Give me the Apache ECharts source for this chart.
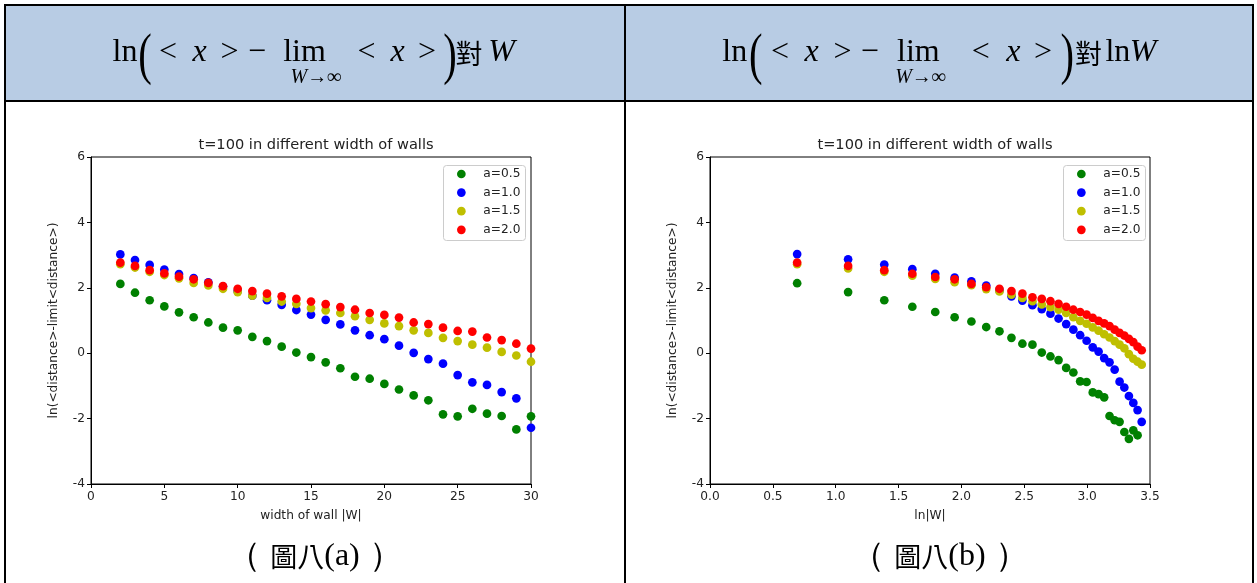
<!DOCTYPE html>
<html>
<head>
<meta charset="utf-8">
<script src="https://cdn.jsdelivr.net/npm/echarts@6/dist/echarts.min.js"></script>
<style>
  html, body { margin: 0; padding: 0; background: #fff; }
  #main { width: 1257px; height: 583px; }
</style>
</head>
<body>
<div id="main"></div>
<script>
// ---- data: panel (a), wall width W on the x axis ----
const widthsA = [2,3,4,5,6,7,8,9,10,11,12,13,14,15,16,17,18,19,20,21,22,23,24,25,26,27,28,29,30];
const a05A = [2.12,1.85,1.62,1.43,1.25,1.10,0.94,0.78,0.70,0.50,0.37,0.20,0.02,-0.12,-0.28,-0.46,-0.72,-0.78,-0.94,-1.11,-1.29,-1.44,-1.87,-1.93,-1.70,-1.85,-1.92,-2.33,-1.93];
const a10A = [3.02,2.85,2.70,2.56,2.42,2.30,2.17,2.04,1.90,1.76,1.62,1.48,1.32,1.18,1.02,0.88,0.70,0.55,0.43,0.23,0.01,-0.18,-0.32,-0.67,-0.89,-0.97,-1.19,-1.38,-2.28];
const a15A = [2.72,2.62,2.49,2.39,2.29,2.15,2.07,1.97,1.87,1.76,1.69,1.58,1.51,1.38,1.31,1.23,1.13,1.02,0.91,0.83,0.70,0.62,0.47,0.37,0.26,0.17,0.04,-0.07,-0.26];
const a20A = [2.77,2.67,2.54,2.44,2.34,2.26,2.15,2.05,1.97,1.90,1.82,1.74,1.66,1.58,1.50,1.41,1.33,1.23,1.17,1.09,0.94,0.89,0.78,0.68,0.66,0.48,0.40,0.29,0.14];

// ---- data: panel (b), ln W on the x axis ----
const widthsB = [2,3,4,5,6,7,8,9,10,11,12,13,14,15,16,17,18,19,20,21,22,23,24,25,26,27,28,29,30,31];
const a05B = [2.14,1.87,1.62,1.42,1.26,1.10,0.97,0.80,0.67,0.47,0.29,0.26,0.02,-0.10,-0.21,-0.45,-0.59,-0.86,-0.88,-1.20,-1.25,-1.35,-1.92,-2.05,-2.10,-2.41,-2.62,-2.36,-2.51,null];
const a10B = [3.03,2.87,2.71,2.57,2.43,2.31,2.20,2.07,1.92,1.74,1.61,1.47,1.35,1.21,1.06,0.89,0.72,0.55,0.38,0.18,0.05,-0.15,-0.28,-0.50,-0.87,-1.05,-1.31,-1.52,-1.74,-2.10];
const a15B = [2.72,2.59,2.49,2.37,2.27,2.17,2.08,1.96,1.89,1.79,1.69,1.59,1.49,1.41,1.33,1.23,1.10,0.99,0.90,0.79,0.69,0.58,0.48,0.37,0.26,0.15,-0.03,-0.17,-0.26,-0.35];
const a20B = [2.77,2.67,2.54,2.43,2.33,2.26,2.12,2.02,1.97,1.90,1.82,1.71,1.66,1.59,1.51,1.42,1.33,1.26,1.18,1.08,0.99,0.91,0.83,0.72,0.62,0.54,0.44,0.34,0.20,0.09];

const seriesNames = ['a=0.5', 'a=1.0', 'a=1.5', 'a=2.0'];
const seriesColors = ['#008000', '#0000ff', '#bfbf00', '#ff0000'];
const yTicks = [-4, -2, 0, 2, 4, 6];
const xTicksA = [0, 5, 10, 15, 20, 25, 30];
const xTicksB = [0.0, 0.5, 1.0, 1.5, 2.0, 2.5, 3.0, 3.5];

const chartTitle = 't=100 in different width of walls';
const yName = 'ln(<distance>-limit<distance>)';
const xNameA = 'width of wall |W|';
const xNameB = 'ln|W|';
const captionA = '{fw|（}{cjk|圖八}{lat|(a)}{fw|）}';
const captionB = '{fw|（}{cjk|圖八}{lat|(b)}{fw|）}';

const SANS = "'DejaVu Sans', sans-serif";
const SERIF = "'Liberation Serif', 'DejaVu Serif', serif";
const CJK = "'Noto Sans CJK TC', 'Noto Sans CJK SC', sans-serif";
const LABEL_SIZE = 12.2;

function pairs(xs, ys, fx) {
  const out = [];
  xs.forEach((x, i) => { if (ys[i] !== null && ys[i] !== undefined) out.push([fx ? fx(x) : x, ys[i]]); });
  return out;
}

const valsA = [a05A, a10A, a15A, a20A];
const valsB = [a05B, a10B, a15B, a20B];

const series = [];
valsA.forEach((v, k) => series.push({
  type: 'scatter', name: seriesNames[k], xAxisIndex: 0, yAxisIndex: 0,
  data: pairs(widthsA, v), symbolSize: 8.7,
  itemStyle: { color: seriesColors[k], opacity: 1 }, emphasis: { disabled: true }, z: 2 + k
}));
valsB.forEach((v, k) => series.push({
  type: 'scatter', name: seriesNames[k], xAxisIndex: 1, yAxisIndex: 1,
  data: pairs(widthsB, v, Math.log), symbolSize: 8.7,
  itemStyle: { color: seriesColors[k], opacity: 1 }, emphasis: { disabled: true }, z: 2 + k
}));

function xAxisDef(idx, ticks, fmt, name) {
  return {
    type: 'value', gridIndex: idx, min: ticks[0], max: ticks[ticks.length - 1],
    interval: ticks[1] - ticks[0],
    axisLine: { show: true, onZero: false, lineStyle: { color: '#000', width: 1 } },
    axisTick: { show: true, length: 4, lineStyle: { color: '#000' } },
    axisLabel: { color: '#222', fontSize: LABEL_SIZE, fontFamily: SANS, margin: 7, formatter: fmt },
    splitLine: { show: false },
    name: name, nameLocation: 'middle', nameGap: 26,
    nameTextStyle: { color: '#222', fontSize: LABEL_SIZE, fontFamily: SANS }
  };
}
function yAxisDef(idx) {
  return {
    type: 'value', gridIndex: idx, min: yTicks[0], max: yTicks[yTicks.length - 1], interval: 2,
    axisLine: { show: true, onZero: false, lineStyle: { color: '#000', width: 1 } },
    axisTick: { show: true, length: 4, lineStyle: { color: '#000' } },
    axisLabel: { color: '#222', fontSize: LABEL_SIZE, fontFamily: SANS, margin: 6 },
    splitLine: { show: false },
    name: yName, nameLocation: 'middle', nameGap: 31, nameRotate: 90,
    nameTextStyle: { color: '#222', fontSize: LABEL_SIZE, fontFamily: SANS }
  };
}

// header formula pieces: [text, centre x, kind]
const headerA = [
  ['ln', 125, 'rm'], ['(', 145, 'paren'], ['<', 168, 'rm'], ['x', 199.5, 'it'], ['>', 229.5, 'rm'],
  ['−', 257, 'rm'], ['lim', 304.5, 'rm'], ['W→∞', 316, 'sub'], ['<', 366.5, 'rm'], ['x', 397.5, 'it'],
  ['>', 427, 'rm'], [')', 450, 'paren'], ['對', 469, 'cjk'], ['W', 501.5, 'it']
];
const headerB = [
  ['ln', 734.7, 'rm'], ['(', 755.8, 'paren'], ['<', 780, 'rm'], ['x', 811.7, 'it'], ['>', 842.4, 'rm'],
  ['−', 869.8, 'rm'], ['lim', 918.4, 'rm'], ['W→∞', 920.6, 'sub'], ['<', 980.7, 'rm'], ['x', 1013.4, 'it'],
  ['>', 1043, 'rm'], [')', 1067.3, 'paren'], ['對', 1088.5, 'cjk'], ['ln', 1117.9, 'rm'], ['W', 1143.2, 'it']
];

function headerPieces(list) {
  return list.map(([t, cx, kind]) => {
    const st = { text: t, fill: '#000', align: 'center', verticalAlign: 'middle', fontFamily: SERIF, fontSize: 32 };
    let y = 53, sy = 1, sx = 1;
    if (kind === 'it') { st.fontStyle = 'italic'; }
    if (kind === 'sub') { st.fontSize = 20; st.fontStyle = 'italic'; y = 78; }
    if (kind === 'cjk') { st.fontFamily = CJK; st.fontSize = 27; y = 54; }
    if (kind === 'paren') { st.fontSize = 58; y = 58; sx = 0.7; }
    return { type: 'text', x: cx, y: y, scaleX: sx, scaleY: sy, style: st, z: 10, silent: true };
  });
}

const captionRich = {
  fw: { fontFamily: SERIF, fontSize: 34, fill: '#000', padding: [0, 9, 0, 9] },
  cjk: { fontFamily: CJK, fontSize: 27, fill: '#000' },
  lat: { fontFamily: SERIF, fontSize: 32, fill: '#000' }
};

const lineStyle = { stroke: '#000', lineWidth: 2 };
const graphics = [
  { type: 'rect', shape: { x: 6, y: 6, width: 618, height: 94 }, style: { fill: '#b8cce4' }, z: 1, silent: true },
  { type: 'rect', shape: { x: 626, y: 6, width: 626, height: 94 }, style: { fill: '#b8cce4' }, z: 1, silent: true },
  { type: 'line', shape: { x1: 4, y1: 5, x2: 1254, y2: 5 }, style: lineStyle, z: 5, silent: true },
  { type: 'line', shape: { x1: 4, y1: 101, x2: 1254, y2: 101 }, style: lineStyle, z: 5, silent: true },
  { type: 'line', shape: { x1: 5, y1: 4, x2: 5, y2: 583 }, style: lineStyle, z: 5, silent: true },
  { type: 'line', shape: { x1: 625, y1: 4, x2: 625, y2: 583 }, style: lineStyle, z: 5, silent: true },
  { type: 'line', shape: { x1: 1253, y1: 4, x2: 1253, y2: 583 }, style: lineStyle, z: 5, silent: true },
  // legend frames
  { type: 'rect', shape: { x: 443.5, y: 165.5, width: 82, height: 75, r: 3 }, style: { fill: 'rgba(255,255,255,0.8)', stroke: '#cccccc', lineWidth: 1 }, z: 20, silent: true },
  { type: 'rect', shape: { x: 1063.5, y: 165.5, width: 82, height: 75, r: 3 }, style: { fill: 'rgba(255,255,255,0.8)', stroke: '#cccccc', lineWidth: 1 }, z: 20, silent: true },
  // captions
  { type: 'text', x: 315, y: 557, style: { text: captionA, rich: captionRich, fill: '#000', align: 'center', verticalAlign: 'middle' }, z: 10, silent: true },
  { type: 'text', x: 940, y: 557, style: { text: captionB, rich: captionRich, fill: '#000', align: 'center', verticalAlign: 'middle' }, z: 10, silent: true }
].concat(headerPieces(headerA), headerPieces(headerB));

function legendDef(left) {
  return {
    left: left, top: 163, orient: 'vertical', itemWidth: 34, itemHeight: 8.7, itemGap: 6.6,
    icon: 'circle', selectedMode: false, z: 30,
    textStyle: { color: '#222', fontSize: LABEL_SIZE, fontFamily: SANS, lineHeight: 12 },
    data: seriesNames
  };
}

const titleStyle = { color: '#222', fontSize: 14.6, fontWeight: 'normal', fontFamily: SANS };
const chart = echarts.init(document.getElementById('main'), null, { renderer: 'canvas' });
chart.setOption({
  animation: false,
  backgroundColor: '#fff',
  title: [
    { text: chartTitle, left: 311, top: 133, textAlign: 'center', textStyle: titleStyle },
    { text: chartTitle, left: 930, top: 133, textAlign: 'center', textStyle: titleStyle }
  ],
  legend: [
    Object.assign(legendDef(452), { id: 'lgA' }),
    Object.assign(legendDef(1072), { id: 'lgB' })
  ],
  grid: [
    { left: 91, top: 157, width: 440, height: 327, show: true, borderColor: '#000', borderWidth: 1, backgroundColor: 'transparent' },
    { left: 710, top: 157, width: 440, height: 327, show: true, borderColor: '#000', borderWidth: 1, backgroundColor: 'transparent' }
  ],
  xAxis: [
    xAxisDef(0, xTicksA, v => String(v), xNameA),
    xAxisDef(1, xTicksB, v => v.toFixed(1), xNameB)
  ],
  yAxis: [yAxisDef(0), yAxisDef(1)],
  graphic: graphics,
  series: series
});
</script>
</body>
</html>
